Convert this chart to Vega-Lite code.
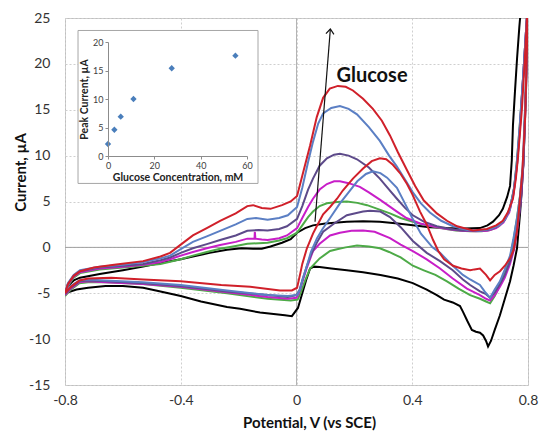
{
"$schema": "https://vega.github.io/schema/vega-lite/v6.json",
"width": 463, "height": 367,
"autosize": {"type": "none"},
"padding": {"left": 65, "top": 18, "right": 12, "bottom": 49},
"background": "white",
"config": {"view": {"stroke": "#bfbfbf", "strokeWidth": 1}, "font": "Lato", "axis": {"labelFont": "Lato", "titleFont": "Lato"}},
"datasets": {
"cv": [
{"s":"0 mM","i":0,"v":-0.8,"c":-5.0},{"s":"0 mM","i":1,"v":-0.79,"c":-4.2},{"s":"0 mM","i":2,"v":-0.77,"c":-3.6},{"s":"0 mM","i":3,"v":-0.748,"c":-3.3},{"s":"0 mM","i":4,"v":-0.68,"c":-2.9},{"s":"0 mM","i":5,"v":-0.6,"c":-2.5},{"s":"0 mM","i":6,"v":-0.53,"c":-2.1},{"s":"0 mM","i":7,"v":-0.47,"c":-1.7},{"s":"0 mM","i":8,"v":-0.4,"c":-1.3},{"s":"0 mM","i":9,"v":-0.358,"c":-1.0},{"s":"0 mM","i":10,"v":-0.3,"c":-0.6},{"s":"0 mM","i":11,"v":-0.24,"c":-0.25},{"s":"0 mM","i":12,"v":-0.19,"c":-0.1},{"s":"0 mM","i":13,"v":-0.15,"c":-0.15},{"s":"0 mM","i":14,"v":-0.12,"c":-0.15},{"s":"0 mM","i":15,"v":-0.09,"c":0.1},{"s":"0 mM","i":16,"v":-0.05,"c":0.5},{"s":"0 mM","i":17,"v":-0.02,"c":0.9},{"s":"0 mM","i":18,"v":0.002,"c":1.6},{"s":"0 mM","i":19,"v":0.03,"c":2.1},{"s":"0 mM","i":20,"v":0.057,"c":2.4},{"s":"0 mM","i":21,"v":0.1,"c":2.6},{"s":"0 mM","i":22,"v":0.174,"c":2.8},{"s":"0 mM","i":23,"v":0.23,"c":2.85},{"s":"0 mM","i":24,"v":0.288,"c":2.8},{"s":"0 mM","i":25,"v":0.35,"c":2.6},{"s":"0 mM","i":26,"v":0.402,"c":2.4},{"s":"0 mM","i":27,"v":0.46,"c":2.2},{"s":"0 mM","i":28,"v":0.52,"c":2.1},{"s":"0 mM","i":29,"v":0.58,"c":2.05},{"s":"0 mM","i":30,"v":0.634,"c":2.1},{"s":"0 mM","i":31,"v":0.66,"c":2.4},{"s":"0 mM","i":32,"v":0.679,"c":2.8},{"s":"0 mM","i":33,"v":0.7,"c":3.5},{"s":"0 mM","i":34,"v":0.713,"c":4.2},{"s":"0 mM","i":35,"v":0.728,"c":5.5},{"s":"0 mM","i":36,"v":0.738,"c":6.7},{"s":"0 mM","i":37,"v":0.744,"c":9.5},{"s":"0 mM","i":38,"v":0.748,"c":13.3},{"s":"0 mM","i":39,"v":0.755,"c":17},{"s":"0 mM","i":40,"v":0.762,"c":20.5},{"s":"0 mM","i":41,"v":0.77,"c":24},{"s":"0 mM","i":42,"v":0.778,"c":27},
{"s":"0 mM","i":43,"v":0.8,"c":27},{"s":"0 mM","i":44,"v":0.792,"c":17},{"s":"0 mM","i":45,"v":0.785,"c":10},{"s":"0 mM","i":46,"v":0.778,"c":6},{"s":"0 mM","i":47,"v":0.772,"c":3.5},{"s":"0 mM","i":48,"v":0.762,"c":-0.1},{"s":"0 mM","i":49,"v":0.75,"c":-2.0},{"s":"0 mM","i":50,"v":0.738,"c":-3.7},{"s":"0 mM","i":51,"v":0.72,"c":-5.6},{"s":"0 mM","i":52,"v":0.703,"c":-7.4},{"s":"0 mM","i":53,"v":0.685,"c":-9.0},{"s":"0 mM","i":54,"v":0.672,"c":-10.2},{"s":"0 mM","i":55,"v":0.662,"c":-10.8},{"s":"0 mM","i":56,"v":0.655,"c":-10.2},{"s":"0 mM","i":57,"v":0.645,"c":-9.6},{"s":"0 mM","i":58,"v":0.634,"c":-9.3},{"s":"0 mM","i":59,"v":0.62,"c":-9.2},{"s":"0 mM","i":60,"v":0.606,"c":-9.0},{"s":"0 mM","i":61,"v":0.59,"c":-8.0},{"s":"0 mM","i":62,"v":0.575,"c":-7.0},{"s":"0 mM","i":63,"v":0.565,"c":-6.4},{"s":"0 mM","i":64,"v":0.54,"c":-6.0},{"s":"0 mM","i":65,"v":0.51,"c":-5.7},{"s":"0 mM","i":66,"v":0.485,"c":-5.2},{"s":"0 mM","i":67,"v":0.45,"c":-4.6},{"s":"0 mM","i":68,"v":0.402,"c":-3.9},{"s":"0 mM","i":69,"v":0.35,"c":-3.4},{"s":"0 mM","i":70,"v":0.29,"c":-3.0},{"s":"0 mM","i":71,"v":0.23,"c":-2.7},{"s":"0 mM","i":72,"v":0.174,"c":-2.5},{"s":"0 mM","i":73,"v":0.12,"c":-2.3},{"s":"0 mM","i":74,"v":0.08,"c":-2.15},{"s":"0 mM","i":75,"v":0.06,"c":-2.1},{"s":"0 mM","i":76,"v":0.047,"c":-2.3},{"s":"0 mM","i":77,"v":0.035,"c":-3.4},{"s":"0 mM","i":78,"v":0.02,"c":-5.0},{"s":"0 mM","i":79,"v":0.005,"c":-6.6},{"s":"0 mM","i":80,"v":-0.016,"c":-7.5},{"s":"0 mM","i":81,"v":-0.04,"c":-7.4},{"s":"0 mM","i":82,"v":-0.126,"c":-7.1},{"s":"0 mM","i":83,"v":-0.195,"c":-6.7},{"s":"0 mM","i":84,"v":-0.24,"c":-6.5},{"s":"0 mM","i":85,"v":-0.33,"c":-5.9},{"s":"0 mM","i":86,"v":-0.4,"c":-5.3},{"s":"0 mM","i":87,"v":-0.47,"c":-4.8},{"s":"0 mM","i":88,"v":-0.53,"c":-4.4},{"s":"0 mM","i":89,"v":-0.6,"c":-4.2},{"s":"0 mM","i":90,"v":-0.66,"c":-4.2},{"s":"0 mM","i":91,"v":-0.72,"c":-4.4},{"s":"0 mM","i":92,"v":-0.76,"c":-4.6},{"s":"0 mM","i":93,"v":-0.8,"c":-5.0},

{"s":"2.75 mM","i":0,"v":-0.8,"c":-5.3},{"s":"2.75 mM","i":1,"v":-0.79,"c":-4.2},{"s":"2.75 mM","i":2,"v":-0.77,"c":-3.3},{"s":"2.75 mM","i":3,"v":-0.748,"c":-2.8},{"s":"2.75 mM","i":4,"v":-0.68,"c":-2.4},{"s":"2.75 mM","i":5,"v":-0.6,"c":-2.2},{"s":"2.75 mM","i":6,"v":-0.53,"c":-2.0},{"s":"2.75 mM","i":7,"v":-0.47,"c":-1.8},{"s":"2.75 mM","i":8,"v":-0.4,"c":-1.3},{"s":"2.75 mM","i":9,"v":-0.358,"c":-0.9},{"s":"2.75 mM","i":10,"v":-0.31,"c":-0.5},{"s":"2.75 mM","i":11,"v":-0.264,"c":-0.15},{"s":"2.75 mM","i":12,"v":-0.21,"c":0.15},{"s":"2.75 mM","i":13,"v":-0.17,"c":0.4},{"s":"2.75 mM","i":14,"v":-0.13,"c":0.45},{"s":"2.75 mM","i":15,"v":-0.1,"c":0.5},{"s":"2.75 mM","i":16,"v":-0.06,"c":0.75},{"s":"2.75 mM","i":17,"v":-0.033,"c":1.0},{"s":"2.75 mM","i":18,"v":0.002,"c":1.6},{"s":"2.75 mM","i":19,"v":0.02,"c":2.4},{"s":"2.75 mM","i":20,"v":0.04,"c":3.3},{"s":"2.75 mM","i":21,"v":0.057,"c":3.9},{"s":"2.75 mM","i":22,"v":0.08,"c":4.5},{"s":"2.75 mM","i":23,"v":0.105,"c":4.8},{"s":"2.75 mM","i":24,"v":0.14,"c":4.95},{"s":"2.75 mM","i":25,"v":0.174,"c":5.0},{"s":"2.75 mM","i":26,"v":0.21,"c":4.85},{"s":"2.75 mM","i":27,"v":0.244,"c":4.6},{"s":"2.75 mM","i":28,"v":0.28,"c":4.2},{"s":"2.75 mM","i":29,"v":0.323,"c":3.7},{"s":"2.75 mM","i":30,"v":0.36,"c":3.2},{"s":"2.75 mM","i":31,"v":0.402,"c":2.8},{"s":"2.75 mM","i":32,"v":0.45,"c":2.4},{"s":"2.75 mM","i":33,"v":0.496,"c":2.1},{"s":"2.75 mM","i":34,"v":0.55,"c":1.85},{"s":"2.75 mM","i":35,"v":0.6,"c":1.75},{"s":"2.75 mM","i":36,"v":0.64,"c":1.75},{"s":"2.75 mM","i":37,"v":0.67,"c":1.9},{"s":"2.75 mM","i":38,"v":0.7,"c":2.3},{"s":"2.75 mM","i":39,"v":0.72,"c":3.0},{"s":"2.75 mM","i":40,"v":0.738,"c":4.3},{"s":"2.75 mM","i":41,"v":0.752,"c":6.5},{"s":"2.75 mM","i":42,"v":0.762,"c":9.5},{"s":"2.75 mM","i":43,"v":0.772,"c":13.5},{"s":"2.75 mM","i":44,"v":0.782,"c":18},{"s":"2.75 mM","i":45,"v":0.792,"c":23},{"s":"2.75 mM","i":46,"v":0.8,"c":27},
{"s":"2.75 mM","i":47,"v":0.8,"c":27},{"s":"2.75 mM","i":48,"v":0.793,"c":17},{"s":"2.75 mM","i":49,"v":0.784,"c":9},{"s":"2.75 mM","i":50,"v":0.772,"c":5.5},{"s":"2.75 mM","i":51,"v":0.762,"c":3.2},{"s":"2.75 mM","i":52,"v":0.75,"c":0.8},{"s":"2.75 mM","i":53,"v":0.738,"c":-1.2},{"s":"2.75 mM","i":54,"v":0.72,"c":-2.8},{"s":"2.75 mM","i":55,"v":0.703,"c":-4.1},{"s":"2.75 mM","i":56,"v":0.685,"c":-5.3},{"s":"2.75 mM","i":57,"v":0.669,"c":-6.1},{"s":"2.75 mM","i":58,"v":0.655,"c":-5.9},{"s":"2.75 mM","i":59,"v":0.634,"c":-5.6},{"s":"2.75 mM","i":60,"v":0.6,"c":-5.2},{"s":"2.75 mM","i":61,"v":0.56,"c":-4.5},{"s":"2.75 mM","i":62,"v":0.52,"c":-3.7},{"s":"2.75 mM","i":63,"v":0.48,"c":-3.0},{"s":"2.75 mM","i":64,"v":0.44,"c":-2.5},{"s":"2.75 mM","i":65,"v":0.402,"c":-2.0},{"s":"2.75 mM","i":66,"v":0.36,"c":-1.1},{"s":"2.75 mM","i":67,"v":0.32,"c":-0.5},{"s":"2.75 mM","i":68,"v":0.288,"c":-0.1},{"s":"2.75 mM","i":69,"v":0.25,"c":0.1},{"s":"2.75 mM","i":70,"v":0.209,"c":0.2},{"s":"2.75 mM","i":71,"v":0.17,"c":0.0},{"s":"2.75 mM","i":72,"v":0.14,"c":-0.2},{"s":"2.75 mM","i":73,"v":0.116,"c":-0.4},{"s":"2.75 mM","i":74,"v":0.08,"c":-1.2},{"s":"2.75 mM","i":75,"v":0.047,"c":-2.3},{"s":"2.75 mM","i":76,"v":0.03,"c":-3.6},{"s":"2.75 mM","i":77,"v":0.015,"c":-4.9},{"s":"2.75 mM","i":78,"v":0.004,"c":-5.7},{"s":"2.75 mM","i":79,"v":-0.02,"c":-5.8},{"s":"2.75 mM","i":80,"v":-0.1,"c":-5.6},{"s":"2.75 mM","i":81,"v":-0.24,"c":-5.0},{"s":"2.75 mM","i":82,"v":-0.4,"c":-4.4},{"s":"2.75 mM","i":83,"v":-0.53,"c":-4.0},{"s":"2.75 mM","i":84,"v":-0.66,"c":-3.8},{"s":"2.75 mM","i":85,"v":-0.72,"c":-3.8},{"s":"2.75 mM","i":86,"v":-0.75,"c":-3.9},{"s":"2.75 mM","i":87,"v":-0.78,"c":-4.6},{"s":"2.75 mM","i":88,"v":-0.8,"c":-5.3},

{"s":"5.5 mM","i":0,"v":-0.8,"c":-5.2},{"s":"5.5 mM","i":1,"v":-0.79,"c":-4.1},{"s":"5.5 mM","i":2,"v":-0.77,"c":-3.2},{"s":"5.5 mM","i":3,"v":-0.748,"c":-2.7},{"s":"5.5 mM","i":4,"v":-0.68,"c":-2.3},{"s":"5.5 mM","i":5,"v":-0.6,"c":-2.1},{"s":"5.5 mM","i":6,"v":-0.53,"c":-1.9},{"s":"5.5 mM","i":7,"v":-0.47,"c":-1.6},{"s":"5.5 mM","i":8,"v":-0.437,"c":-1.3},{"s":"5.5 mM","i":9,"v":-0.4,"c":-0.9},{"s":"5.5 mM","i":10,"v":-0.358,"c":-0.5},{"s":"5.5 mM","i":11,"v":-0.31,"c":-0.1},{"s":"5.5 mM","i":12,"v":-0.264,"c":0.25},{"s":"5.5 mM","i":13,"v":-0.21,"c":0.6},{"s":"5.5 mM","i":14,"v":-0.17,"c":0.95},{"s":"5.5 mM","i":15,"v":-0.145,"c":0.95},{"s":"5.5 mM","i":16,"v":-0.144,"c":1.7},{"s":"5.5 mM","i":17,"v":-0.142,"c":0.95},{"s":"5.5 mM","i":18,"v":-0.12,"c":0.85},{"s":"5.5 mM","i":19,"v":-0.1,"c":0.8},{"s":"5.5 mM","i":20,"v":-0.06,"c":1.0},{"s":"5.5 mM","i":21,"v":-0.033,"c":1.3},{"s":"5.5 mM","i":22,"v":0.002,"c":2.1},{"s":"5.5 mM","i":23,"v":0.02,"c":3.2},{"s":"5.5 mM","i":24,"v":0.04,"c":4.4},{"s":"5.5 mM","i":25,"v":0.057,"c":5.3},{"s":"5.5 mM","i":26,"v":0.08,"c":6.3},{"s":"5.5 mM","i":27,"v":0.105,"c":6.9},{"s":"5.5 mM","i":28,"v":0.13,"c":7.2},{"s":"5.5 mM","i":29,"v":0.15,"c":7.2},{"s":"5.5 mM","i":30,"v":0.18,"c":7.0},{"s":"5.5 mM","i":31,"v":0.219,"c":6.6},{"s":"5.5 mM","i":32,"v":0.25,"c":6.0},{"s":"5.5 mM","i":33,"v":0.288,"c":5.2},{"s":"5.5 mM","i":34,"v":0.32,"c":4.5},{"s":"5.5 mM","i":35,"v":0.347,"c":3.9},{"s":"5.5 mM","i":36,"v":0.38,"c":3.2},{"s":"5.5 mM","i":37,"v":0.427,"c":2.6},{"s":"5.5 mM","i":38,"v":0.47,"c":2.3},{"s":"5.5 mM","i":39,"v":0.52,"c":2.0},{"s":"5.5 mM","i":40,"v":0.57,"c":1.8},{"s":"5.5 mM","i":41,"v":0.62,"c":1.75},{"s":"5.5 mM","i":42,"v":0.66,"c":1.8},{"s":"5.5 mM","i":43,"v":0.69,"c":2.1},{"s":"5.5 mM","i":44,"v":0.715,"c":2.7},{"s":"5.5 mM","i":45,"v":0.735,"c":3.8},{"s":"5.5 mM","i":46,"v":0.75,"c":5.8},{"s":"5.5 mM","i":47,"v":0.762,"c":9.0},{"s":"5.5 mM","i":48,"v":0.772,"c":13},{"s":"5.5 mM","i":49,"v":0.782,"c":18},{"s":"5.5 mM","i":50,"v":0.792,"c":23},{"s":"5.5 mM","i":51,"v":0.8,"c":27},
{"s":"5.5 mM","i":52,"v":0.8,"c":27},{"s":"5.5 mM","i":53,"v":0.793,"c":17},{"s":"5.5 mM","i":54,"v":0.784,"c":9},{"s":"5.5 mM","i":55,"v":0.775,"c":5},{"s":"5.5 mM","i":56,"v":0.765,"c":2.5},{"s":"5.5 mM","i":57,"v":0.752,"c":-0.2},{"s":"5.5 mM","i":58,"v":0.738,"c":-1.8},{"s":"5.5 mM","i":59,"v":0.72,"c":-3.3},{"s":"5.5 mM","i":60,"v":0.703,"c":-4.3},{"s":"5.5 mM","i":61,"v":0.685,"c":-5.2},{"s":"5.5 mM","i":62,"v":0.669,"c":-5.8},{"s":"5.5 mM","i":63,"v":0.655,"c":-5.6},{"s":"5.5 mM","i":64,"v":0.634,"c":-5.2},{"s":"5.5 mM","i":65,"v":0.589,"c":-4.5},{"s":"5.5 mM","i":66,"v":0.54,"c":-3.4},{"s":"5.5 mM","i":67,"v":0.496,"c":-2.3},{"s":"5.5 mM","i":68,"v":0.45,"c":-1.3},{"s":"5.5 mM","i":69,"v":0.402,"c":-0.4},{"s":"5.5 mM","i":70,"v":0.36,"c":0.3},{"s":"5.5 mM","i":71,"v":0.323,"c":1.0},{"s":"5.5 mM","i":72,"v":0.27,"c":1.7},{"s":"5.5 mM","i":73,"v":0.23,"c":1.85},{"s":"5.5 mM","i":74,"v":0.19,"c":1.8},{"s":"5.5 mM","i":75,"v":0.15,"c":1.6},{"s":"5.5 mM","i":76,"v":0.116,"c":1.3},{"s":"5.5 mM","i":77,"v":0.08,"c":0.4},{"s":"5.5 mM","i":78,"v":0.057,"c":-0.4},{"s":"5.5 mM","i":79,"v":0.036,"c":-2.2},{"s":"5.5 mM","i":80,"v":0.02,"c":-3.8},{"s":"5.5 mM","i":81,"v":0.008,"c":-5.0},{"s":"5.5 mM","i":82,"v":0.0,"c":-5.5},{"s":"5.5 mM","i":83,"v":-0.03,"c":-5.6},{"s":"5.5 mM","i":84,"v":-0.1,"c":-5.4},{"s":"5.5 mM","i":85,"v":-0.24,"c":-4.9},{"s":"5.5 mM","i":86,"v":-0.4,"c":-4.3},{"s":"5.5 mM","i":87,"v":-0.53,"c":-4.0},{"s":"5.5 mM","i":88,"v":-0.66,"c":-3.8},{"s":"5.5 mM","i":89,"v":-0.72,"c":-3.7},{"s":"5.5 mM","i":90,"v":-0.75,"c":-3.8},{"s":"5.5 mM","i":91,"v":-0.78,"c":-4.5},{"s":"5.5 mM","i":92,"v":-0.8,"c":-5.2},

{"s":"11 mM","i":0,"v":-0.8,"c":-5.1},{"s":"11 mM","i":1,"v":-0.79,"c":-4.0},{"s":"11 mM","i":2,"v":-0.77,"c":-3.1},{"s":"11 mM","i":3,"v":-0.748,"c":-2.6},{"s":"11 mM","i":4,"v":-0.68,"c":-2.2},{"s":"11 mM","i":5,"v":-0.6,"c":-2.0},{"s":"11 mM","i":6,"v":-0.53,"c":-1.8},{"s":"11 mM","i":7,"v":-0.47,"c":-1.4},{"s":"11 mM","i":8,"v":-0.437,"c":-1.1},{"s":"11 mM","i":9,"v":-0.4,"c":-0.6},{"s":"11 mM","i":10,"v":-0.358,"c":-0.1},{"s":"11 mM","i":11,"v":-0.31,"c":0.35},{"s":"11 mM","i":12,"v":-0.264,"c":0.8},{"s":"11 mM","i":13,"v":-0.21,"c":1.3},{"s":"11 mM","i":14,"v":-0.17,"c":1.8},{"s":"11 mM","i":15,"v":-0.13,"c":1.9},{"s":"11 mM","i":16,"v":-0.1,"c":1.85},{"s":"11 mM","i":17,"v":-0.06,"c":2.0},{"s":"11 mM","i":18,"v":-0.033,"c":2.3},{"s":"11 mM","i":19,"v":0.002,"c":3.1},{"s":"11 mM","i":20,"v":0.02,"c":4.5},{"s":"11 mM","i":21,"v":0.04,"c":6.3},{"s":"11 mM","i":22,"v":0.057,"c":7.5},{"s":"11 mM","i":23,"v":0.08,"c":8.9},{"s":"11 mM","i":24,"v":0.105,"c":9.7},{"s":"11 mM","i":25,"v":0.13,"c":10.1},{"s":"11 mM","i":26,"v":0.15,"c":10.2},{"s":"11 mM","i":27,"v":0.18,"c":10.0},{"s":"11 mM","i":28,"v":0.209,"c":9.6},{"s":"11 mM","i":29,"v":0.25,"c":8.7},{"s":"11 mM","i":30,"v":0.288,"c":7.5},{"s":"11 mM","i":31,"v":0.32,"c":6.3},{"s":"11 mM","i":32,"v":0.347,"c":5.3},{"s":"11 mM","i":33,"v":0.375,"c":4.3},{"s":"11 mM","i":34,"v":0.402,"c":3.5},{"s":"11 mM","i":35,"v":0.44,"c":2.8},{"s":"11 mM","i":36,"v":0.485,"c":2.3},{"s":"11 mM","i":37,"v":0.53,"c":2.0},{"s":"11 mM","i":38,"v":0.575,"c":1.85},{"s":"11 mM","i":39,"v":0.62,"c":1.8},{"s":"11 mM","i":40,"v":0.66,"c":1.9},{"s":"11 mM","i":41,"v":0.69,"c":2.2},{"s":"11 mM","i":42,"v":0.715,"c":2.8},{"s":"11 mM","i":43,"v":0.735,"c":4.0},{"s":"11 mM","i":44,"v":0.75,"c":6.0},{"s":"11 mM","i":45,"v":0.762,"c":9.0},{"s":"11 mM","i":46,"v":0.772,"c":13},{"s":"11 mM","i":47,"v":0.782,"c":18},{"s":"11 mM","i":48,"v":0.792,"c":23},{"s":"11 mM","i":49,"v":0.8,"c":27},
{"s":"11 mM","i":50,"v":0.8,"c":27},{"s":"11 mM","i":51,"v":0.793,"c":17},{"s":"11 mM","i":52,"v":0.784,"c":9},{"s":"11 mM","i":53,"v":0.775,"c":5},{"s":"11 mM","i":54,"v":0.765,"c":2.5},{"s":"11 mM","i":55,"v":0.752,"c":0.0},{"s":"11 mM","i":56,"v":0.738,"c":-1.5},{"s":"11 mM","i":57,"v":0.72,"c":-3.0},{"s":"11 mM","i":58,"v":0.703,"c":-4.0},{"s":"11 mM","i":59,"v":0.685,"c":-4.9},{"s":"11 mM","i":60,"v":0.669,"c":-5.5},{"s":"11 mM","i":61,"v":0.655,"c":-5.1},{"s":"11 mM","i":62,"v":0.634,"c":-4.8},{"s":"11 mM","i":63,"v":0.6,"c":-4.1},{"s":"11 mM","i":64,"v":0.575,"c":-3.5},{"s":"11 mM","i":65,"v":0.54,"c":-2.5},{"s":"11 mM","i":66,"v":0.496,"c":-1.5},{"s":"11 mM","i":67,"v":0.45,"c":-0.6},{"s":"11 mM","i":68,"v":0.402,"c":0.7},{"s":"11 mM","i":69,"v":0.36,"c":2.2},{"s":"11 mM","i":70,"v":0.323,"c":3.3},{"s":"11 mM","i":71,"v":0.29,"c":3.9},{"s":"11 mM","i":72,"v":0.254,"c":4.0},{"s":"11 mM","i":73,"v":0.23,"c":3.9},{"s":"11 mM","i":74,"v":0.2,"c":3.7},{"s":"11 mM","i":75,"v":0.174,"c":3.5},{"s":"11 mM","i":76,"v":0.13,"c":2.6},{"s":"11 mM","i":77,"v":0.092,"c":1.7},{"s":"11 mM","i":78,"v":0.07,"c":0.5},{"s":"11 mM","i":79,"v":0.05,"c":-0.8},{"s":"11 mM","i":80,"v":0.036,"c":-2.0},{"s":"11 mM","i":81,"v":0.02,"c":-3.6},{"s":"11 mM","i":82,"v":0.01,"c":-4.7},{"s":"11 mM","i":83,"v":0.0,"c":-5.2},{"s":"11 mM","i":84,"v":-0.03,"c":-5.4},{"s":"11 mM","i":85,"v":-0.1,"c":-5.2},{"s":"11 mM","i":86,"v":-0.24,"c":-4.8},{"s":"11 mM","i":87,"v":-0.4,"c":-4.2},{"s":"11 mM","i":88,"v":-0.53,"c":-3.9},{"s":"11 mM","i":89,"v":-0.66,"c":-3.7},{"s":"11 mM","i":90,"v":-0.72,"c":-3.6},{"s":"11 mM","i":91,"v":-0.75,"c":-3.7},{"s":"11 mM","i":92,"v":-0.78,"c":-4.4},{"s":"11 mM","i":93,"v":-0.8,"c":-5.1},

{"s":"27.5 mM","i":0,"v":-0.8,"c":-5.0},{"s":"27.5 mM","i":1,"v":-0.79,"c":-3.9},{"s":"27.5 mM","i":2,"v":-0.77,"c":-3.0},{"s":"27.5 mM","i":3,"v":-0.748,"c":-2.5},{"s":"27.5 mM","i":4,"v":-0.68,"c":-2.1},{"s":"27.5 mM","i":5,"v":-0.6,"c":-1.9},{"s":"27.5 mM","i":6,"v":-0.53,"c":-1.6},{"s":"27.5 mM","i":7,"v":-0.47,"c":-1.2},{"s":"27.5 mM","i":8,"v":-0.437,"c":-0.9},{"s":"27.5 mM","i":9,"v":-0.4,"c":-0.2},{"s":"27.5 mM","i":10,"v":-0.358,"c":0.6},{"s":"27.5 mM","i":11,"v":-0.31,"c":1.2},{"s":"27.5 mM","i":12,"v":-0.264,"c":1.8},{"s":"27.5 mM","i":13,"v":-0.21,"c":2.5},{"s":"27.5 mM","i":14,"v":-0.17,"c":3.1},{"s":"27.5 mM","i":15,"v":-0.14,"c":3.2},{"s":"27.5 mM","i":16,"v":-0.1,"c":3.0},{"s":"27.5 mM","i":17,"v":-0.06,"c":3.2},{"s":"27.5 mM","i":18,"v":-0.03,"c":3.5},{"s":"27.5 mM","i":19,"v":0.002,"c":4.4},{"s":"27.5 mM","i":20,"v":0.02,"c":6.5},{"s":"27.5 mM","i":21,"v":0.04,"c":9.3},{"s":"27.5 mM","i":22,"v":0.057,"c":11.5},{"s":"27.5 mM","i":23,"v":0.075,"c":13.5},{"s":"27.5 mM","i":24,"v":0.092,"c":14.6},{"s":"27.5 mM","i":25,"v":0.12,"c":15.2},{"s":"27.5 mM","i":26,"v":0.15,"c":15.4},{"s":"27.5 mM","i":27,"v":0.18,"c":15.1},{"s":"27.5 mM","i":28,"v":0.209,"c":14.5},{"s":"27.5 mM","i":29,"v":0.25,"c":13.1},{"s":"27.5 mM","i":30,"v":0.288,"c":11.6},{"s":"27.5 mM","i":31,"v":0.32,"c":10.0},{"s":"27.5 mM","i":32,"v":0.347,"c":8.8},{"s":"27.5 mM","i":33,"v":0.375,"c":7.4},{"s":"27.5 mM","i":34,"v":0.402,"c":6.0},{"s":"27.5 mM","i":35,"v":0.43,"c":4.8},{"s":"27.5 mM","i":36,"v":0.461,"c":3.8},{"s":"27.5 mM","i":37,"v":0.5,"c":2.9},{"s":"27.5 mM","i":38,"v":0.541,"c":2.3},{"s":"27.5 mM","i":39,"v":0.59,"c":1.9},{"s":"27.5 mM","i":40,"v":0.634,"c":1.8},{"s":"27.5 mM","i":41,"v":0.67,"c":2.0},{"s":"27.5 mM","i":42,"v":0.7,"c":2.4},{"s":"27.5 mM","i":43,"v":0.72,"c":3.0},{"s":"27.5 mM","i":44,"v":0.738,"c":4.2},{"s":"27.5 mM","i":45,"v":0.752,"c":6.5},{"s":"27.5 mM","i":46,"v":0.762,"c":9.5},{"s":"27.5 mM","i":47,"v":0.772,"c":13.5},{"s":"27.5 mM","i":48,"v":0.782,"c":18},{"s":"27.5 mM","i":49,"v":0.792,"c":23},{"s":"27.5 mM","i":50,"v":0.8,"c":27},
{"s":"27.5 mM","i":51,"v":0.8,"c":27},{"s":"27.5 mM","i":52,"v":0.792,"c":17},{"s":"27.5 mM","i":53,"v":0.782,"c":9},{"s":"27.5 mM","i":54,"v":0.772,"c":5.5},{"s":"27.5 mM","i":55,"v":0.762,"c":3.2},{"s":"27.5 mM","i":56,"v":0.75,"c":1.0},{"s":"27.5 mM","i":57,"v":0.738,"c":-0.9},{"s":"27.5 mM","i":58,"v":0.72,"c":-2.4},{"s":"27.5 mM","i":59,"v":0.703,"c":-3.7},{"s":"27.5 mM","i":60,"v":0.685,"c":-4.6},{"s":"27.5 mM","i":61,"v":0.669,"c":-5.5},{"s":"27.5 mM","i":62,"v":0.65,"c":-4.8},{"s":"27.5 mM","i":63,"v":0.634,"c":-4.1},{"s":"27.5 mM","i":64,"v":0.6,"c":-3.5},{"s":"27.5 mM","i":65,"v":0.575,"c":-3.0},{"s":"27.5 mM","i":66,"v":0.54,"c":-2.0},{"s":"27.5 mM","i":67,"v":0.496,"c":-0.6},{"s":"27.5 mM","i":68,"v":0.47,"c":0.0},{"s":"27.5 mM","i":69,"v":0.43,"c":1.5},{"s":"27.5 mM","i":70,"v":0.4,"c":3.2},{"s":"27.5 mM","i":71,"v":0.368,"c":5.2},{"s":"27.5 mM","i":72,"v":0.347,"c":6.5},{"s":"27.5 mM","i":73,"v":0.313,"c":7.6},{"s":"27.5 mM","i":74,"v":0.29,"c":8.1},{"s":"27.5 mM","i":75,"v":0.264,"c":8.3},{"s":"27.5 mM","i":76,"v":0.24,"c":8.0},{"s":"27.5 mM","i":77,"v":0.21,"c":7.2},{"s":"27.5 mM","i":78,"v":0.18,"c":6.0},{"s":"27.5 mM","i":79,"v":0.15,"c":4.8},{"s":"27.5 mM","i":80,"v":0.116,"c":3.2},{"s":"27.5 mM","i":81,"v":0.09,"c":2.0},{"s":"27.5 mM","i":82,"v":0.071,"c":1.0},{"s":"27.5 mM","i":83,"v":0.05,"c":-0.5},{"s":"27.5 mM","i":84,"v":0.036,"c":-2.0},{"s":"27.5 mM","i":85,"v":0.02,"c":-3.6},{"s":"27.5 mM","i":86,"v":0.012,"c":-4.6},{"s":"27.5 mM","i":87,"v":0.002,"c":-5.2},{"s":"27.5 mM","i":88,"v":-0.03,"c":-5.3},{"s":"27.5 mM","i":89,"v":-0.1,"c":-5.2},{"s":"27.5 mM","i":90,"v":-0.24,"c":-4.7},{"s":"27.5 mM","i":91,"v":-0.4,"c":-4.1},{"s":"27.5 mM","i":92,"v":-0.53,"c":-3.8},{"s":"27.5 mM","i":93,"v":-0.66,"c":-3.6},{"s":"27.5 mM","i":94,"v":-0.72,"c":-3.5},{"s":"27.5 mM","i":95,"v":-0.75,"c":-3.6},{"s":"27.5 mM","i":96,"v":-0.78,"c":-4.2},{"s":"27.5 mM","i":97,"v":-0.8,"c":-5.0},

{"s":"55 mM","i":0,"v":-0.8,"c":-5.0},{"s":"55 mM","i":1,"v":-0.79,"c":-4.0},{"s":"55 mM","i":2,"v":-0.77,"c":-3.1},{"s":"55 mM","i":3,"v":-0.748,"c":-2.6},{"s":"55 mM","i":4,"v":-0.7,"c":-2.2},{"s":"55 mM","i":5,"v":-0.63,"c":-1.9},{"s":"55 mM","i":6,"v":-0.53,"c":-1.5},{"s":"55 mM","i":7,"v":-0.47,"c":-1.0},{"s":"55 mM","i":8,"v":-0.437,"c":-0.6},{"s":"55 mM","i":9,"v":-0.4,"c":0.3},{"s":"55 mM","i":10,"v":-0.358,"c":1.3},{"s":"55 mM","i":11,"v":-0.31,"c":2.1},{"s":"55 mM","i":12,"v":-0.264,"c":2.9},{"s":"55 mM","i":13,"v":-0.21,"c":3.7},{"s":"55 mM","i":14,"v":-0.17,"c":4.5},{"s":"55 mM","i":15,"v":-0.15,"c":4.6},{"s":"55 mM","i":16,"v":-0.12,"c":4.3},{"s":"55 mM","i":17,"v":-0.09,"c":4.2},{"s":"55 mM","i":18,"v":-0.05,"c":4.6},{"s":"55 mM","i":19,"v":-0.02,"c":5.0},{"s":"55 mM","i":20,"v":0.002,"c":5.6},{"s":"55 mM","i":21,"v":0.02,"c":7.8},{"s":"55 mM","i":22,"v":0.047,"c":11.1},{"s":"55 mM","i":23,"v":0.07,"c":14.2},{"s":"55 mM","i":24,"v":0.092,"c":16.3},{"s":"55 mM","i":25,"v":0.115,"c":17.3},{"s":"55 mM","i":26,"v":0.143,"c":17.6},{"s":"55 mM","i":27,"v":0.17,"c":17.5},{"s":"55 mM","i":28,"v":0.195,"c":17.1},{"s":"55 mM","i":29,"v":0.23,"c":16.2},{"s":"55 mM","i":30,"v":0.264,"c":15.1},{"s":"55 mM","i":31,"v":0.295,"c":13.8},{"s":"55 mM","i":32,"v":0.323,"c":12.2},{"s":"55 mM","i":33,"v":0.35,"c":10.4},{"s":"55 mM","i":34,"v":0.382,"c":8.4},{"s":"55 mM","i":35,"v":0.41,"c":6.7},{"s":"55 mM","i":36,"v":0.44,"c":5.1},{"s":"55 mM","i":37,"v":0.485,"c":3.7},{"s":"55 mM","i":38,"v":0.52,"c":2.9},{"s":"55 mM","i":39,"v":0.555,"c":2.3},{"s":"55 mM","i":40,"v":0.61,"c":1.85},{"s":"55 mM","i":41,"v":0.658,"c":2.0},{"s":"55 mM","i":42,"v":0.69,"c":2.4},{"s":"55 mM","i":43,"v":0.713,"c":2.9},{"s":"55 mM","i":44,"v":0.73,"c":3.8},{"s":"55 mM","i":45,"v":0.748,"c":5.3},{"s":"55 mM","i":46,"v":0.758,"c":7.5},{"s":"55 mM","i":47,"v":0.765,"c":9.7},{"s":"55 mM","i":48,"v":0.779,"c":15.1},{"s":"55 mM","i":49,"v":0.789,"c":20.5},{"s":"55 mM","i":50,"v":0.798,"c":26},
{"s":"55 mM","i":51,"v":0.8,"c":26},{"s":"55 mM","i":52,"v":0.79,"c":14},{"s":"55 mM","i":53,"v":0.78,"c":8},{"s":"55 mM","i":54,"v":0.772,"c":5.3},{"s":"55 mM","i":55,"v":0.762,"c":1.7},{"s":"55 mM","i":56,"v":0.75,"c":-0.3},{"s":"55 mM","i":57,"v":0.738,"c":-1.2},{"s":"55 mM","i":58,"v":0.72,"c":-2.0},{"s":"55 mM","i":59,"v":0.703,"c":-2.6},{"s":"55 mM","i":60,"v":0.685,"c":-3.0},{"s":"55 mM","i":61,"v":0.669,"c":-3.6},{"s":"55 mM","i":62,"v":0.655,"c":-3.0},{"s":"55 mM","i":63,"v":0.634,"c":-2.3},{"s":"55 mM","i":64,"v":0.615,"c":-2.4},{"s":"55 mM","i":65,"v":0.6,"c":-2.5},{"s":"55 mM","i":66,"v":0.57,"c":-2.3},{"s":"55 mM","i":67,"v":0.541,"c":-2.0},{"s":"55 mM","i":68,"v":0.51,"c":-1.3},{"s":"55 mM","i":69,"v":0.49,"c":-0.4},{"s":"55 mM","i":70,"v":0.472,"c":0.8},{"s":"55 mM","i":71,"v":0.45,"c":2.5},{"s":"55 mM","i":72,"v":0.427,"c":3.9},{"s":"55 mM","i":73,"v":0.4,"c":5.8},{"s":"55 mM","i":74,"v":0.382,"c":6.9},{"s":"55 mM","i":75,"v":0.36,"c":8.0},{"s":"55 mM","i":76,"v":0.333,"c":9.0},{"s":"55 mM","i":77,"v":0.31,"c":9.6},{"s":"55 mM","i":78,"v":0.288,"c":9.7},{"s":"55 mM","i":79,"v":0.26,"c":9.4},{"s":"55 mM","i":80,"v":0.23,"c":8.6},{"s":"55 mM","i":81,"v":0.195,"c":7.5},{"s":"55 mM","i":82,"v":0.16,"c":6.2},{"s":"55 mM","i":83,"v":0.14,"c":5.3},{"s":"55 mM","i":84,"v":0.116,"c":4.4},{"s":"55 mM","i":85,"v":0.092,"c":3.6},{"s":"55 mM","i":86,"v":0.07,"c":2.3},{"s":"55 mM","i":87,"v":0.057,"c":1.5},{"s":"55 mM","i":88,"v":0.036,"c":-0.1},{"s":"55 mM","i":89,"v":0.02,"c":-1.8},{"s":"55 mM","i":90,"v":0.012,"c":-3.0},{"s":"55 mM","i":91,"v":0.002,"c":-4.4},{"s":"55 mM","i":92,"v":-0.016,"c":-4.7},{"s":"55 mM","i":93,"v":-0.057,"c":-4.7},{"s":"55 mM","i":94,"v":-0.16,"c":-4.3},{"s":"55 mM","i":95,"v":-0.26,"c":-4.1},{"s":"55 mM","i":96,"v":-0.4,"c":-3.7},{"s":"55 mM","i":97,"v":-0.53,"c":-3.5},{"s":"55 mM","i":98,"v":-0.64,"c":-3.3},{"s":"55 mM","i":99,"v":-0.72,"c":-3.4},{"s":"55 mM","i":100,"v":-0.75,"c":-3.6},{"s":"55 mM","i":101,"v":-0.78,"c":-4.3},{"s":"55 mM","i":102,"v":-0.8,"c":-5.0}
],
"peak": [
{"conc":0,"peak":2.1},{"conc":2.75,"peak":4.6},{"conc":5.5,"peak":6.9},{"conc":11,"peak":10.0},{"conc":27.5,"peak":15.4},{"conc":55,"peak":17.6}
]
},
"layer": [
{
"layer": [
{"data": {"values": [{}]}, "mark": {"type": "rule", "color": "#a0a0a0", "strokeWidth": 1}, "encoding": {"y": {"datum": 0}}},
{"data": {"values": [{}]}, "mark": {"type": "rule", "color": "#b4b4b4", "strokeWidth": 1}, "encoding": {"x": {"datum": 0}}},
{"data": {"name": "cv"}, "mark": {"type": "line", "strokeWidth": 2, "clip": true},
 "encoding": {
  "x": {"field": "v", "type": "quantitative", "scale": {"domain": [-0.8, 0.8], "nice": false, "zero": false},
   "axis": {"values": [-0.8, -0.4, 0, 0.4, 0.8], "labelExpr": "toString(datum.value)", "title": "Potential, V (vs SCE)", "grid": true, "gridDash": [2, 2], "gridColor": "#cfcfcf", "domain": false, "ticks": false, "labelFlush": false, "labelPadding": 8, "labelFontSize": 14, "labelColor": "#333333", "titleFontSize": 15, "titleFontWeight": "bold", "titleColor": "#111111", "titleX": 244, "titleY": 37, "titleBaseline": "middle"}},
  "y": {"field": "c", "type": "quantitative", "scale": {"domain": [-15, 25], "nice": false, "zero": false},
   "axis": {"values": [-15, -10, -5, 0, 5, 10, 15, 20, 25], "labelExpr": "toString(datum.value)", "title": "Current, µA", "grid": true, "gridDash": [2, 2], "gridColor": "#cfcfcf", "domain": false, "ticks": false, "labelPadding": 15, "labelFontSize": 14, "labelColor": "#333333", "titleFontSize": 15, "titleFontWeight": "bold", "titleColor": "#111111", "titleX": -45, "titleY": 154, "titleAngle": 270, "titleBaseline": "middle"}},
  "color": {"field": "s", "type": "nominal", "scale": {"domain": ["0 mM", "2.75 mM", "5.5 mM", "11 mM", "27.5 mM", "55 mM"], "range": ["#000000", "#4daa47", "#c81ec8", "#5d4a8a", "#5b7fc4", "#d0202a"]}, "legend": null},
  "order": {"field": "i", "type": "quantitative"}
 }},
{"data": {"values": [{}]}, "mark": {"type": "rect", "fill": "white", "stroke": "#a6a6a6", "strokeWidth": 1}, "encoding": {"x": {"datum": -0.755}, "x2": {"datum": -0.133}, "y": {"datum": 23.64}, "y2": {"datum": 6.97}}},
{"data": {"values": [{}]}, "mark": {"type": "rule", "color": "#111111", "strokeWidth": 1.2}, "encoding": {"x": {"datum": 0.064}, "x2": {"datum": 0.117}, "y": {"datum": 2.8}, "y2": {"datum": 23.8}}},
{"data": {"values": [{}]}, "mark": {"type": "point", "shape": "M-0.8,1L0,0L0.8,1", "filled": false, "stroke": "#111111", "strokeWidth": 1.2, "size": 100, "angle": 5, "opacity": 1}, "encoding": {"x": {"datum": 0.117}, "y": {"datum": 23.8}}},
{"data": {"values": [{}]}, "mark": {"type": "text", "text": "Glucose", "align": "left", "baseline": "alphabetic", "fontSize": 20, "fontWeight": "bold", "font": "Lato", "color": "#111111"}, "encoding": {"x": {"datum": 0.138}, "y": {"datum": 18.0}}}
]
},
{
"data": {"name": "peak"},
"mark": {"type": "point", "shape": "diamond", "filled": true, "color": "#4a7ebb", "size": 40, "opacity": 1},
"encoding": {
 "x": {"field": "conc", "type": "quantitative", "scale": {"domain": [0, 60], "range": [43, 182], "nice": false, "zero": false},
  "axis": {"orient": "bottom", "offset": -229, "zindex": 1, "values": [0, 20, 40, 60], "title": "Glucose Concentration, mM", "grid": false, "domain": true, "domainColor": "#8c8c8c", "tickColor": "#8c8c8c", "tickSize": 3, "labelFlush": false, "labelFontSize": 9, "labelColor": "#404040", "labelPadding": 2, "titleFontSize": 10.5, "titleFontWeight": "bold", "titleColor": "#222222", "titlePadding": 2}},
 "y": {"field": "peak", "type": "quantitative", "scale": {"domain": [0, 20], "range": [138, 24], "nice": false, "zero": false},
  "axis": {"orient": "left", "offset": -43, "zindex": 1, "values": [0, 5, 10, 15, 20], "title": "Peak Current, µA", "grid": false, "domain": true, "domainColor": "#8c8c8c", "tickColor": "#8c8c8c", "tickSize": 3, "labelFontSize": 9, "labelColor": "#404040", "labelPadding": 2, "titleFontSize": 10.5, "titleFontWeight": "bold", "titleColor": "#222222", "titlePadding": 3}}
}
}
],
"resolve": {"scale": {"x": "independent", "y": "independent"}, "axis": {"x": "independent", "y": "independent"}}
}
